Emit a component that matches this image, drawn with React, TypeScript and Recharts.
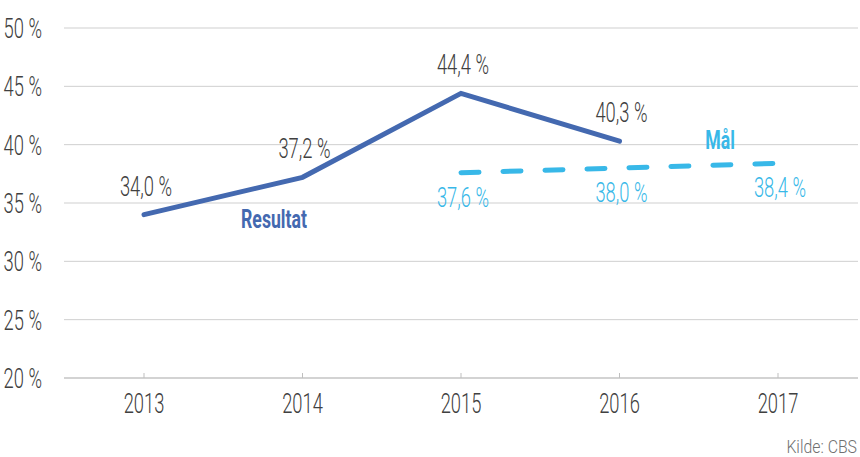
import * as React from "react";
import { LineChart, Line, XAxis, YAxis, CartesianGrid, LabelList } from "recharts";

const years = ["2013", "2014", "2015", "2016", "2017"];
const resultat = [34.0, 37.2, 44.4, 40.3, null];
const maal = [null, null, 37.6, 38.0, 38.4];
const yTicks = [20, 25, 30, 35, 40, 45, 50];

const data = years.map((year, i) => ({ year, resultat: resultat[i], maal: maal[i] }));

const FONT = "Roboto, 'DejaVu Sans', sans-serif";
const DARK_BLUE = "#4469B0";
const LIGHT_BLUE = "#38B8E8";
const TEXT = "#404040";

const fmt = (v: number) => `${v.toFixed(1).replace(".", ",")} %`;

// narrow text: the original uses a tall condensed face
function SText({ x, y, size = 27, fill = TEXT, anchor = "middle", bold = false, sx = 0.68, children }: any) {
  return (
    <text
      transform={`translate(${x},${y}) scale(${sx},1)`}
      textAnchor={anchor}
      fontSize={size}
      fill={fill}
      fontFamily={FONT}
      fontWeight={bold ? 700 : 300}
    >
      {children}
    </text>
  );
}

function XTick({ x, y, payload }: any) {
  return (
    <g>
      <line x1={x} x2={x} y1={y - 5} y2={y} stroke="#bfbfbf" />
      <SText x={x} y={y + 35}>{payload.value}</SText>
    </g>
  );
}

function YTick({ x, y, payload }: any) {
  return (
    <SText x={x} y={y + 10} anchor="end">
      {`${payload.value} %`}
    </SText>
  );
}

function pointOf(props: any) {
  const vb = props.viewBox || {};
  return { px: props.x ?? vb.x, py: props.y ?? vb.y };
}

function ResultatLabel(props: any) {
  if (props.value == null) return null;
  const { px, py } = pointOf(props);
  return <SText x={px + 2} y={py - 19}>{fmt(props.value)}</SText>;
}

function MaalLabel(props: any) {
  if (props.value == null) return null;
  const { px, py } = pointOf(props);
  return <SText x={px + 2} y={py + 34} fill={LIGHT_BLUE}>{fmt(props.value)}</SText>;
}

export default function App() {
  return (
    <div style={{ position: "absolute", left: 0, top: 0, width: 860, height: 457, background: "#fff" }}>
      <LineChart width={860} height={457} data={data} margin={{ top: 28, right: 2, bottom: 39, left: 0 }}>
        <CartesianGrid vertical={false} stroke="#cfcfcf" />
        <XAxis
          dataKey="year"
          axisLine={{ stroke: "#bfbfbf" }}
          tickLine={false}
          tickSize={0}
          tickMargin={0}
          height={40}
          padding={{ left: 80, right: 80 }}
          tick={<XTick />}
        />
        <YAxis
          domain={[20, 50]}
          ticks={yTicks}
          width={64}
          axisLine={false}
          tickLine={false}
          tickMargin={16}
          tick={<YTick />}
        />
        <Line
          dataKey="resultat"
          stroke={DARK_BLUE}
          strokeWidth={5}
          strokeLinecap="round"
          dot={false}
          isAnimationActive={false}
        >
          <LabelList dataKey="resultat" content={<ResultatLabel />} />
        </Line>
        <Line
          dataKey="maal"
          stroke={LIGHT_BLUE}
          strokeWidth={5}
          strokeLinecap="round"
          strokeDasharray="18 24"
          dot={false}
          isAnimationActive={false}
        >
          <LabelList dataKey="maal" content={<MaalLabel />} />
        </Line>
      </LineChart>
      <svg width={860} height={457} style={{ position: "absolute", left: 0, top: 0, pointerEvents: "none" }}>
        <SText x={274} y={228} size={26} fill={DARK_BLUE} bold>Resultat</SText>
        <SText x={720} y={149} size={26} fill={LIGHT_BLUE} bold>Mål</SText>
        <SText x={857} y={453} size={18} sx={0.88} fill="#707070" anchor="end">Kilde: CBS</SText>
      </svg>
    </div>
  );
}
